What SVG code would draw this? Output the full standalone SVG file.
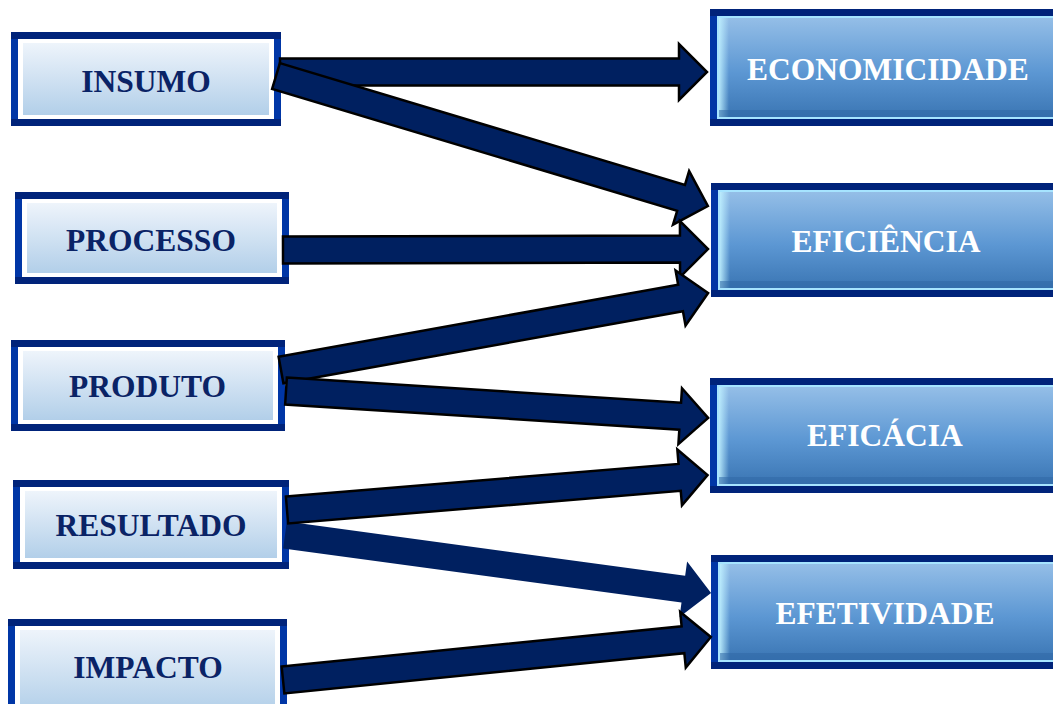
<svg xmlns="http://www.w3.org/2000/svg" width="1053" height="704" viewBox="0 0 1053 704">
  <defs>
    <linearGradient id="gLight" x1="0" y1="0" x2="0" y2="1">
      <stop offset="0" stop-color="#eef4fb"/>
      <stop offset="1" stop-color="#b2cfe9"/>
    </linearGradient>
    <linearGradient id="gBlue" x1="0" y1="0" x2="0" y2="1">
      <stop offset="0" stop-color="#94bee7"/>
      <stop offset="0.55" stop-color="#5c97d3"/>
      <stop offset="1" stop-color="#3b76b4"/>
    </linearGradient>
    <linearGradient id="gEdgeL" x1="0" y1="0" x2="1" y2="0">
      <stop offset="0" stop-color="#ffffff" stop-opacity="0.9"/>
      <stop offset="1" stop-color="#ffffff" stop-opacity="0"/>
    </linearGradient>
    <linearGradient id="gEdgeB" x1="0" y1="0" x2="1" y2="0">
      <stop offset="0" stop-color="#bff0ff" stop-opacity="0.9"/>
      <stop offset="1" stop-color="#bff0ff" stop-opacity="0"/>
    </linearGradient>
  </defs>
  <style>
    .frame { fill: #0036a6; }
    .frameTop { fill: #00237a; }
    .rimL { fill: #ffffff; }
    .fillL { fill: url(#gLight); }
    .rimB { fill: #a6e4ff; }
    .fillB { fill: url(#gBlue); }
    .shadeB { fill: #2f68a6; opacity: 0.55; }
    .lbl { font-family: "Liberation Serif", "Times New Roman", serif; font-weight: bold; font-size: 31.5px; text-anchor: middle; }
    .lblL { fill: #0a2366; }
    .lblB { fill: #ffffff; }
    .arr { fill: #002060; stroke: #000000; stroke-width: 2.5; stroke-linejoin: miter; }
    .arr.plain { stroke: none; }
  </style>

  <!-- left column: source stages -->
  <g id="insumo">
    <rect class="frame" x="11" y="32" width="270" height="94"/>
    <rect class="frameTop" x="11" y="32" width="270" height="7"/>
    <rect class="frameTop" x="11" y="119" width="270" height="7"/>
    <rect class="rimL" x="18" y="39" width="256" height="80"/>
    <rect class="fillL" x="23" y="43" width="246" height="72"/>
    <text class="lbl lblL" x="146" y="92">INSUMO</text>
  </g>
  <g id="processo">
    <rect class="frame" x="15" y="192" width="274" height="92"/>
    <rect class="frameTop" x="15" y="192" width="274" height="7"/>
    <rect class="frameTop" x="15" y="277" width="274" height="7"/>
    <rect class="rimL" x="22" y="199" width="260" height="78"/>
    <rect class="fillL" x="27" y="203" width="250" height="70"/>
    <text class="lbl lblL" x="151" y="251">PROCESSO</text>
  </g>
  <g id="produto">
    <rect class="frame" x="11" y="340" width="274" height="91"/>
    <rect class="frameTop" x="11" y="340" width="274" height="7"/>
    <rect class="frameTop" x="11" y="424" width="274" height="7"/>
    <rect class="rimL" x="18" y="347" width="260" height="77"/>
    <rect class="fillL" x="23" y="351" width="250" height="69"/>
    <text class="lbl lblL" x="147.5" y="397">PRODUTO</text>
  </g>
  <g id="resultado">
    <rect class="frame" x="13" y="480" width="276" height="89"/>
    <rect class="frameTop" x="13" y="480" width="276" height="7"/>
    <rect class="frameTop" x="13" y="562" width="276" height="7"/>
    <rect class="rimL" x="20" y="487" width="262" height="75"/>
    <rect class="fillL" x="25" y="491" width="252" height="67"/>
    <text class="lbl lblL" x="151" y="536">RESULTADO</text>
  </g>
  <g id="impacto">
    <rect class="frame" x="8" y="619" width="279" height="94"/>
    <rect class="frameTop" x="8" y="619" width="279" height="7"/>
    <rect class="rimL" x="15" y="626" width="265" height="90"/>
    <rect class="fillL" x="20" y="630" width="255" height="82"/>
    <text class="lbl lblL" x="148" y="678">IMPACTO</text>
  </g>

  <!-- right column: performance dimensions -->
  <g id="economicidade">
    <rect class="frame" x="710" y="9" width="352" height="117"/>
    <rect class="frameTop" x="710" y="9" width="352" height="7"/>
    <rect class="frameTop" x="710" y="119" width="352" height="7"/>
    <rect class="rimB" x="717" y="16" width="338" height="103"/>
    <rect class="fillB" x="719" y="18" width="334" height="99"/>
    <rect x="719" y="18" width="10" height="99" fill="url(#gEdgeB)"/>
    <rect class="shadeB" x="719" y="110" width="334" height="7"/>
    <text class="lbl lblB" x="888" y="80">ECONOMICIDADE</text>
  </g>
  <g id="eficiencia">
    <rect class="frame" x="711" y="183" width="352" height="114"/>
    <rect class="frameTop" x="711" y="183" width="352" height="7"/>
    <rect class="frameTop" x="711" y="290" width="352" height="7"/>
    <rect class="rimB" x="718" y="190" width="338" height="100"/>
    <rect class="fillB" x="720" y="192" width="334" height="96"/>
    <rect x="720" y="192" width="10" height="96" fill="url(#gEdgeB)"/>
    <rect class="shadeB" x="720" y="281" width="334" height="7"/>
    <text class="lbl lblB" x="886" y="252">EFICIÊNCIA</text>
  </g>
  <g id="eficacia">
    <rect class="frame" x="710" y="378" width="352" height="115"/>
    <rect class="frameTop" x="710" y="378" width="352" height="7"/>
    <rect class="frameTop" x="710" y="486" width="352" height="7"/>
    <rect class="rimB" x="717" y="385" width="338" height="101"/>
    <rect class="fillB" x="719" y="387" width="334" height="97"/>
    <rect x="719" y="387" width="10" height="97" fill="url(#gEdgeB)"/>
    <rect class="shadeB" x="719" y="477" width="334" height="7"/>
    <text class="lbl lblB" x="885" y="446">EFICÁCIA</text>
  </g>
  <g id="efetividade">
    <rect class="frame" x="711" y="555" width="352" height="114"/>
    <rect class="frameTop" x="711" y="555" width="352" height="7"/>
    <rect class="frameTop" x="711" y="662" width="352" height="7"/>
    <rect class="rimB" x="718" y="562" width="338" height="100"/>
    <rect class="fillB" x="720" y="564" width="334" height="96"/>
    <rect x="720" y="564" width="10" height="96" fill="url(#gEdgeB)"/>
    <rect class="shadeB" x="720" y="653" width="334" height="7"/>
    <text class="lbl lblB" x="885" y="624">EFETIVIDADE</text>
  </g>

  <!-- block arrows: each is drawn along +x from its tail, then placed -->
  <g id="connectors">
    <path class="arr" transform="translate(280,72)" d="M0,-13.5 H399 V-28 L427,0 L399,28 V13.5 H0 Z"/>
    <path class="arr" transform="translate(276,76) rotate(16.75)" d="M0,-13.5 H423 V-28 L451,0 L423,28 V13.5 H0 Z"/>
    <path class="arr" transform="translate(283,250) rotate(-0.13)" d="M0,-13.5 H397 V-28 L425,0 L397,28 V13.5 H0 Z"/>
    <path class="arr" transform="translate(281,370) rotate(-10.22)" d="M0,-13.5 H406 V-28 L434,0 L406,28 V13.5 H0 Z"/>
    <path class="arr" transform="translate(286,391) rotate(3.66)" d="M0,-13.5 H395 V-28 L423,0 L395,28 V13.5 H0 Z"/>
    <path class="arr plain" transform="translate(285,535) rotate(7.75)" d="M0,-13.5 H402 V-28 L430,0 L402,28 V13.5 H0 Z"/>
    <path class="arr" transform="translate(287,510) rotate(-4.75)" d="M0,-13.5 H394 V-28 L422,0 L394,28 V13.5 H0 Z"/>
    <path class="arr" transform="translate(283,680) rotate(-5.74)" d="M0,-13.5 H402 V-28 L430,0 L402,28 V13.5 H0 Z"/>
  </g>
</svg>
